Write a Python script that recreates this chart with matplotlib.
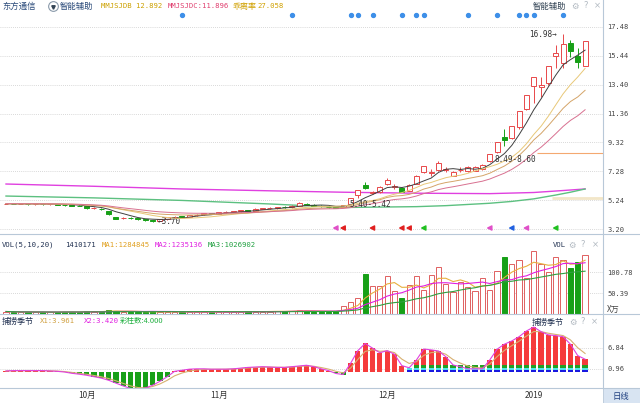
import numpy as np
import pandas as pd
import matplotlib
matplotlib.use('Agg')
import matplotlib.pyplot as plt
from matplotlib.lines import Line2D
from matplotlib.patches import Rectangle

plt.rcParams['font.family'] = ['Noto Sans CJK SC', 'DejaVu Sans']

# ---- daily bars, 东方通信, Sep 2018 - Jan 2019
opens = [4.96, 4.99, 4.96, 4.98, 4.95, 4.97, 4.94, 4.96, 4.93, 4.88,
         4.86, 4.80, 4.66, 4.62, 4.45, 4.05, 3.95, 3.98, 3.95, 3.90,
         3.80, 3.80, 3.90, 4.02, 4.10, 4.08, 4.16, 4.24, 4.33, 4.28,
         4.38, 4.40, 4.46, 4.53, 4.50, 4.62, 4.66, 4.68, 4.76, 4.74,
         4.86, 5.00, 4.92, 4.86, 4.78, 4.76, 4.76, 4.95, 5.60, 6.30,
         5.74, 5.82, 6.40, 6.15, 6.12, 5.92, 6.40, 7.20, 7.14, 7.38,
         7.38, 6.98, 7.36, 7.30, 7.32, 7.45, 7.98, 8.62, 9.72, 9.62,
         10.40, 11.70, 13.30, 13.22, 13.50, 15.40, 14.95, 16.35, 15.40, 14.75]
closes = [4.99, 4.96, 4.98, 4.95, 4.97, 4.94, 4.96, 4.93, 4.88, 4.86,
          4.82, 4.66, 4.68, 4.58, 4.25, 3.93, 3.98, 3.97, 3.92, 3.82,
          3.78, 3.88, 4.02, 4.08, 4.06, 4.16, 4.22, 4.33, 4.28, 4.38,
          4.40, 4.45, 4.52, 4.49, 4.62, 4.66, 4.68, 4.76, 4.72, 4.85,
          5.04, 4.92, 4.86, 4.80, 4.74, 4.70, 4.91, 5.40, 5.94, 6.10,
          5.79, 6.15, 6.65, 6.22, 5.85, 6.28, 6.98, 7.68, 7.20, 7.85,
          7.40, 7.20, 7.38, 7.55, 7.60, 7.72, 8.49, 9.34, 9.52, 10.47,
          11.52, 12.67, 13.94, 13.40, 14.74, 15.62, 16.30, 15.80, 15.00, 16.50]
highs = [5.01, 5.01, 5.00, 5.00, 4.99, 4.99, 4.98, 4.98, 4.95, 4.90,
         4.88, 4.82, 4.72, 4.66, 4.48, 4.08, 4.02, 4.02, 3.98, 3.93,
         3.84, 3.92, 4.05, 4.12, 4.14, 4.19, 4.26, 4.36, 4.36, 4.40,
         4.44, 4.48, 4.56, 4.56, 4.65, 4.70, 4.73, 4.79, 4.80, 4.88,
         5.10, 5.04, 4.95, 4.88, 4.80, 4.78, 4.93, 5.40, 5.94, 6.53,
         5.88, 6.22, 6.80, 6.35, 6.18, 6.35, 7.02, 7.68, 7.45, 7.98,
         7.55, 7.28, 7.60, 7.62, 7.65, 7.80, 8.49, 9.34, 10.27, 10.47,
         11.52, 12.67, 13.94, 13.95, 14.74, 16.21, 16.98, 16.55, 16.00, 16.50]
lows = [4.94, 4.94, 4.94, 4.93, 4.93, 4.92, 4.92, 4.91, 4.86, 4.84,
        4.80, 4.62, 4.60, 4.54, 4.20, 3.90, 3.90, 3.92, 3.86, 3.78,
        3.70, 3.76, 3.86, 3.98, 4.02, 4.05, 4.12, 4.20, 4.25, 4.26,
        4.34, 4.37, 4.42, 4.45, 4.48, 4.58, 4.62, 4.64, 4.68, 4.70,
        4.82, 4.88, 4.82, 4.76, 4.70, 4.66, 4.72, 4.92, 5.42, 6.00,
        5.65, 5.78, 6.30, 6.05, 5.80, 5.88, 6.36, 7.15, 6.98, 7.30,
        7.20, 6.92, 7.25, 7.25, 7.28, 7.40, 7.95, 8.60, 9.10, 9.55,
        10.30, 11.60, 12.10, 12.55, 13.40, 14.55, 14.60, 15.35, 14.60, 14.70]
# volume, 万手
vols = [6, 5, 4, 5, 4, 5, 4, 4, 6, 5, 5,
        8, 5, 6, 9, 8, 6, 5, 4, 5, 7,
        6, 5, 4, 4, 5, 5, 6, 4, 4, 5,
        5, 6, 7, 6, 5, 6, 8, 7, 8, 9, 8, 6, 5, 6,
        7.2, 20, 30, 39, 95, 68, 67, 92, 55, 38, 70, 92, 58, 94, 114,
        71, 52, 78, 66, 55, 86, 58, 103, 136, 119, 129, 86, 151, 119, 100,
        137, 130, 111, 126, 141]
# 捕捞季节 columns
blv = [0.4, 0.5, 0.5, 0.5, 0.5, 0.5, 0.4, 0.3, 0.1,
       -0.26, -0.5, -0.8, -1.2, -1.6, -2.2, -3.0, -3.8, -4.5, -4.7, -4.4, -3.6, -2.5, -1.2,
       0.3, 0.6, 0.9, 1.0, 1.0, 0.9, 0.9, 0.9, 1.0, 1.2, 1.4, 1.5, 1.6, 1.5, 1.4, 1.4,
       1.6, 1.8, 2.0, 1.6, 1.0, 0.5,
       -0.3, -0.6,
       2.5, 6.1, 8.1, 6.8, 5.5, 6.1,
       5.07, 1.9, 1.3, 3.5, 6.55, 6.3, 6.0, 4.4, 2.07, 1.6, 1.0, 1.0, 1.0,
       3.5, 6.5, 7.9, 8.8, 10.0, 11.6, 12.7, 11.4, 10.5, 10.3, 10.0, 7.9, 4.7, 3.7]
stripe_start = 55

# long moving averages (history before the window), read at a few bars
long1_idx = [0, 12, 24, 36, 46, 56, 66, 72, 76, 79]
long1_val = [6.38, 6.22, 6.03, 5.90, 5.80, 5.73, 5.70, 5.78, 5.92, 6.03]
long2_idx = [0, 12, 24, 36, 46, 56, 60, 66, 69, 72, 75, 77, 79]
long2_val = [5.53, 5.40, 5.22, 4.97, 4.72, 4.78, 4.85, 5.02, 5.15, 5.33, 5.60, 5.80, 6.03]

dot_idx = [24, 39, 47, 48, 50, 54, 56, 57, 63, 67, 70, 71, 72, 76]
flag_idx = [45, 46, 50, 54, 55, 57, 66, 69, 71, 75]
flag_col = ['#e050c8', '#e02020', '#e02020', '#e02020', '#e02020', '#20c020',
            '#e050c8', '#2060e0', '#e050c8', '#20c020']

month_idx = [11, 29, 52, 72]
month_lab = ['10月', '11月', '12月', '2019']
price_ticks = [3.20, 5.24, 7.28, 9.32, 11.36, 13.40, 15.44, 17.48]
vol_ticks = [50.39, 100.78]
bl_ticks = [0.96, 6.84]

# ---- layout (pixels)
W, H = 640, 403
PX0, STEP = 6.0, 7.33
XR = 603
fig = plt.figure(figsize=(W / 100, H / 100), dpi=100)
fig.patch.set_facecolor('white')

def axes_at(top, bottom):
    return fig.add_axes([0, 1 - bottom / H, XR / W, (bottom - top) / H])

ax = axes_at(0, 233.5)
axv = axes_at(233.5, 314)
axb = axes_at(314, 388)
for a in (ax, axv, axb):
    a.set_xlim((0 - PX0) / STEP, (XR - PX0) / STEP)
    for sp in a.spines.values():
        sp.set_visible(False)
    a.yaxis.tick_right()
    a.tick_params(axis='y', length=0, pad=3, labelsize=5, labelcolor='#444')
    a.tick_params(axis='x', length=0)
    a.set_xticks([])
    a.grid(axis='y', linestyle=(0, (1, 1.5)), color='#cccccc', linewidth=0.6)
    a.set_axisbelow(True)

mono = 'DejaVu Sans Mono'
RED = '#e8484a'
GRN = '#17a017'

# ---- main price panel
ax.set_ylim(3.2 - 4.5 / 14.146, 3.2 + 229 / 14.146)
ax.set_yticks(price_ticks, ['%.2f' % v for v in price_ticks])
idx = np.arange(len(closes))
o = np.array(opens); c = np.array(closes); h = np.array(highs); l = np.array(lows)
up = c >= o
top = np.maximum(o, c); bot = np.minimum(o, c)
body = np.maximum(top - bot, 0.03)
cols = np.where(up, RED, GRN)
ax.vlines(idx, top, h, colors=cols, lw=0.7, zorder=3)
ax.vlines(idx, l, bot, colors=cols, lw=0.7, zorder=3)
ax.bar(idx[up], body[up], bottom=bot[up], width=0.68, facecolor='white',
       edgecolor=RED, linewidth=0.7, zorder=3)
ax.bar(idx[~up], body[~up], bottom=bot[~up], width=0.68, facecolor=GRN,
       edgecolor=GRN, linewidth=0.7, zorder=3)

s = pd.Series(closes)
ax.plot(idx, s.rolling(5, min_periods=1).mean(), color='#404040', lw=0.7, zorder=4)
ax.plot(idx, s.rolling(10, min_periods=1).mean(), color='#e8c878', lw=0.7, zorder=4)
ax.plot(idx, s.ewm(span=16, adjust=False).mean(), color='#d4a468', lw=0.7, zorder=4)
ax.plot(idx, s.ewm(span=24, adjust=False).mean(), color='#d87090', lw=0.7, zorder=4)
ax.plot(long1_idx, long1_val, color='#e040e0', lw=1.0, zorder=2)
ax.plot(long2_idx, long2_val, color='#5cc080', lw=1.0, zorder=2)

ax.hlines(8.60, 72.5, 90, color='#f4a870', lw=0.8)
ax.hlines(5.42, 74.5, 90, color='#f2e6c8', lw=2.0)

ax.scatter(dot_idx, [18.33] * len(dot_idx), s=8, color='#3d8fe8', zorder=5)
ax.scatter(flag_idx, [3.27] * len(flag_idx), marker='<', s=9, c=flag_col, zorder=5)

ax.text(76 - 0.9, 16.98, '16.98→', ha='right', va='center', fontsize=5.5, family=mono, color='#333')
ax.text(20 + 0.7, 3.70, '←3.70', ha='left', va='center', fontsize=5.5, family=mono, color='#333')
ax.text(66.6, 8.1, '8.49-8.60', ha='left', va='center', fontsize=5.5, family=mono, color='#333', zorder=6)
ax.text(46.9, 4.9, '5.40-5.42', ha='left', va='center', fontsize=5.5, family=mono, color='#333', zorder=6)

# ---- volume panel
axv.set_ylim(0, (314 - 233.5) * 2.4)
axv.set_yticks(vol_ticks, ['%.2f' % v for v in vol_ticks])
v = np.array(vols)
axv.bar(idx[up], v[up], width=0.72, facecolor='white', edgecolor='#e06060', linewidth=0.7, zorder=3)
axv.bar(idx[~up], v[~up], width=0.72, facecolor=GRN, edgecolor=GRN, linewidth=0.7, zorder=3)
vs = pd.Series(vols)
axv.plot(idx, vs.rolling(5, min_periods=1).mean(), color='#e8b040', lw=0.8, zorder=4)
axv.plot(idx, vs.rolling(10, min_periods=1).mean(), color='#e020e0', lw=0.8, zorder=4)
axv.plot(idx, vs.rolling(20, min_periods=1).mean(), color='#30a040', lw=0.8, zorder=4)

# ---- 捕捞季节 panel
axb.set_ylim(-(388 - 372.4) * 0.28, (372.4 - 314) * 0.28)
axb.set_yticks(bl_ticks, ['%.2f' % v for v in bl_ticks])
b = np.array(blv)
pos = b >= 0
axb.bar(idx[pos], b[pos], width=0.72, color='#f53b3b', zorder=3)
axb.bar(idx[~pos], b[~pos], width=0.72, color='#18a018', zorder=3)
si = idx[stripe_start:]
axb.bar(si, 0.55, bottom=0.05, width=0.72, color='#1818e0', zorder=4)
axb.bar(si, 0.55, bottom=0.7, width=0.72, color='#50e4ee', zorder=4)
axb.bar(si[1:], 0.75, bottom=1.3, width=0.72, color='#22a022', zorder=4)
bs = pd.Series(blv)
axb.plot(idx, bs.ewm(span=3, adjust=False).mean(), color='#d8b070', lw=0.8, zorder=5)
axb.plot(idx, b, color='#e040e0', lw=0.8, zorder=5)
axb.set_xticks(month_idx, month_lab)
axb.tick_params(axis='x', labelsize=6, pad=2, labelcolor='#333')
for a in (ax, axv, axb):
    for lab in a.get_yticklabels():
        lab.set_family(mono)

# ---- header texts
def ftxt(x, y, txt, color, size=5.2, fam=None, ha='left'):
    fam = fam or ['Noto Sans CJK SC', 'DejaVu Sans']
    fig.text(x / W, 1 - y / H, txt, color=color, fontsize=size, family=fam, ha=ha, va='center')

ftxt(2, 6, '东方通信', '#2a4a7a', 6)
fig.add_artist(Line2D([53 / W], [1 - 6 / H], marker='o', ms=7, mfc='white', mec='#8a9aaa', mew=0.8))
fig.add_artist(Line2D([53 / W], [1 - 6.5 / H], marker='v', ms=2.5, color='#334455'))
ftxt(60, 6, '智能辅助', '#2a4a7a', 6)
ftxt(101, 6, 'MMJSJDB 12.892', '#cca000', 5.2, [mono])
ftxt(168, 6, 'MMJSJDC:11.896', '#e04070', 5.2, [mono])
ftxt(233, 6, '乖离率', '#d0a000', 5.8)
ftxt(257, 6, '27.058', '#d0a000', 5.2, [mono])

ftxt(2, 245, 'VOL(5,10,20)', '#203050', 5.2, [mono])
ftxt(65, 245, '1410171', '#203050', 5.2, [mono])
ftxt(102, 245, 'MA1:1284845', '#e0a020', 5.2, [mono])
ftxt(155, 245, 'MA2:1235136', '#e020e0', 5.2, [mono])
ftxt(208, 245, 'MA3:1026902', '#20a040', 5.2, [mono])

ftxt(2, 321, '捕捞季节', '#203050', 5.8)
ftxt(40, 321, 'X1:3.961', '#d0a040', 5.2, [mono])
ftxt(84, 321, 'X2:3.420', '#e020e0', 5.2, [mono])
ftxt(120, 321, '彩柱数:4.000', '#20b040', 5.4)

icons = ['⚙', '?', '×']
ftxt(533, 6, '智能辅助', '#334455', 6)
ftxt(553, 245, 'VOL', '#203050', 5.2, [mono])
ftxt(532, 322, '捕捞季节', '#203050', 5.8)
for y0, xs in ((6, (575, 586, 597)), (245, (572, 583, 595)), (322, (573, 583, 594))):
    for x0, ic in zip(xs, icons):
        ftxt(x0, y0, ic, '#b0b8c0', 6, ['DejaVu Sans'], ha='center')

ftxt(607, 309, 'X万', '#444', 5.8)

# ---- frame lines and bottom strip
for yy in (233.5, 314, 388):
    fig.add_artist(Line2D([0, 1], [1 - yy / H] * 2, color='#b8c8d8', lw=0.8))
fig.add_artist(Line2D([XR / W] * 2, [1 - 388 / H, 1], color='#b8c8d8', lw=0.8))
fig.add_artist(Rectangle((XR / W, 0), 1 - XR / W, 15 / H, transform=fig.transFigure,
                         facecolor='#d8e4f2', edgecolor='#b8c8d8', lw=0.6))
ftxt(621, 396, '日线', '#204080', 6, ha='center')

fig.savefig('out.png', dpi=100)
